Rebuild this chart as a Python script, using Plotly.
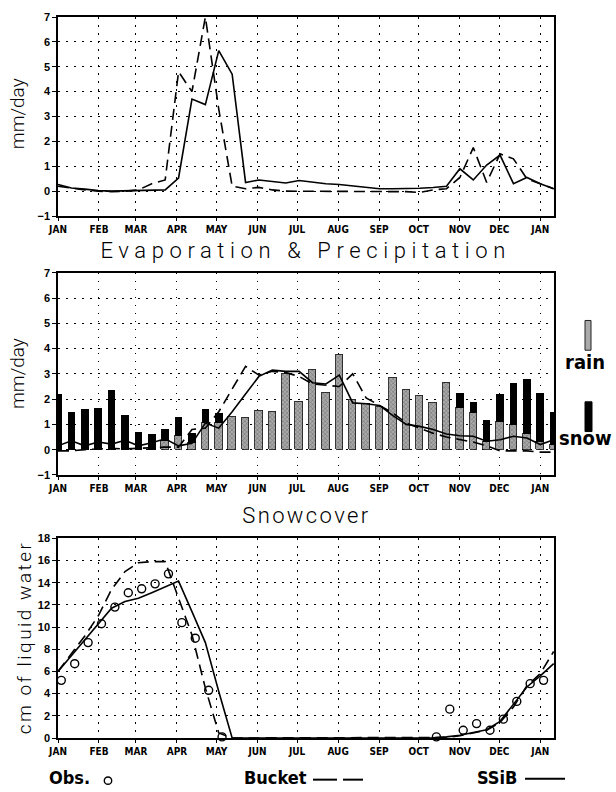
import plotly.graph_objects as go

# ---------------------------------------------------------------- data
MONTHS = ["JAN", "FEB", "MAR", "APR", "MAY", "JUN", "JUL",
          "AUG", "SEP", "OCT", "NOV", "DEC", "JAN"]
MONTH_START_DAY = [0, 31, 59, 90, 120, 151, 181, 212, 243, 273, 304, 334, 365]

N_DEKADS = 38                     # 10-day steps, Jan 1 through early Jan of next year
DEKAD_LEN = 365 / 36
dekad_day = [i * DEKAD_LEN for i in range(N_DEKADS)]
OBS_SHIFT_DAYS = 2.5              # observations are dated a few days into each dekad

# Runoff (mm/day)
ssib_runoff = [0.27, 0.13, 0.08, 0.02, 0.0, 0.02, 0.03, 0.05, 0.05, 0.53,
               3.7, 3.48, 5.65, 4.7, 0.35, 0.45, 0.4, 0.33, 0.43, 0.35,
               0.3, 0.27, 0.22, 0.15, 0.1, 0.1, 0.1, 0.12, 0.15, 0.2,
               0.9, 0.45, 1.05, 1.45, 0.3, 0.55, 0.3, 0.1]
bucket_runoff = [0.2, 0.12, 0.05, 0.0, -0.02, 0.0, 0.05, 0.3, 0.45, 4.8,
                 4.0, 7.0, 3.3, 0.2, 0.1, 0.15, 0.05, 0.0, 0.0, 0.0,
                 0.0, -0.02, -0.02, 0.0, 0.0, 0.0, -0.02, -0.05, 0.05, 0.1,
                 0.55, 1.75, 0.35, 1.5, 1.3, 0.5, 0.3, 0.1]

# Evaporation (mm/day)
ssib_evap = [0.15, 0.35, 0.15, 0.3, 0.22, 0.37, 0.15, 0.27, 0.43, 0.15,
             0.25, 1.05, 0.85, 1.5, 2.2, 2.9, 3.15, 3.1, 3.1, 2.65,
             2.6, 2.95, 1.85, 1.82, 1.75, 1.35, 1.0, 0.92, 0.8, 0.62,
             0.55, 0.53, 0.33, 0.39, 0.53, 0.46, 0.2, 0.39]
bucket_evap = [-0.05, -0.05, 0.0, 0.02, 0.05, 0.03, 0.05, 0.1, 0.1, 0.1,
               0.8, 0.85, 1.5, 2.4, 3.3, 2.95, 3.1, 3.05, 2.9, 2.6,
               2.55, 2.5, 3.0, 2.05, 1.75, 1.45, 1.05, 0.85, 0.65, 0.5,
               0.4, 0.3, 0.15, -0.05, -0.05, -0.05, -0.1, -0.1]

# Precipitation split (mm/day)
rain = [0.0, 0.0, 0.0, 0.0, 0.0, 0.0, 0.0, 0.0, 0.35, 0.53,
        0.27, 1.05, 1.05, 1.31, 1.25, 1.55, 1.51, 3.02, 1.9, 3.15,
        2.23, 3.74, 1.98, 1.8, 1.68, 2.84, 2.38, 2.12, 1.84, 2.63,
        1.65, 1.47, 0.3, 1.1, 1.0, 0.62, 0.3, 0.2]
snow = [2.2, 1.51, 1.6, 1.64, 2.36, 1.38, 0.72, 0.63, 0.49, 0.77,
        0.41, 0.55, 0.42, 0.0, 0.0, 0.0, 0.0, 0.0, 0.0, 0.0,
        0.0, 0.0, 0.0, 0.0, 0.0, 0.0, 0.0, 0.0, 0.0, 0.0,
        0.61, 0.43, 0.87, 1.09, 1.66, 2.17, 1.96, 1.31]

# Snowcover (cm of liquid water)
ssib_swe = [6.0, 7.4, 8.85, 10.3, 11.7, 12.3, 12.6, 13.1, 13.6, 14.15,
            11.4, 8.6, 4.2, 0.0, 0.0, 0.0, 0.0, 0.0, 0.0, 0.0,
            0.0, 0.0, 0.0, 0.0, 0.0, 0.0, 0.0, 0.0, 0.02, 0.1,
            0.25, 0.5, 0.75, 1.5, 3.0, 4.6, 5.6, 6.7]
bucket_swe = [6.0, 7.6, 9.2, 11.0, 13.4, 15.0, 15.8, 15.9, 15.9, 12.6,
              9.3, 4.5, 0.45, 0.0, 0.0, 0.0, 0.0, 0.0, 0.0, 0.0,
              0.0, 0.0, 0.0, 0.0, 0.0, 0.0, 0.0, 0.0, 0.0, 0.05,
              0.2, 0.45, 0.7, 1.4, 2.8, 4.7, 5.8, 7.8]
obs_swe = [5.2, 6.7, 8.6, 10.3, 11.8, 13.1, 13.45, 13.9, 14.8, 10.4,
           9.0, 4.3, 0.1, None, None, None, None, None, None, None,
           None, None, None, None, None, None, None, None, 0.1, 2.6,
           0.7, 1.3, 0.7, 1.7, 3.3, 4.9, 5.2, None]

# ---------------------------------------------------------------- layout helpers
W, H = 616, 792
ML, MR, MT, MB = 58, 62, 11, 54
PW, PH = W - ML - MR, H - MT - MB
X_MAX = 375.4


def pxx(x):
    return (x - ML) / PW


def pxy(y):
    return (H - MB - y) / PH


TICK_FONT = dict(family="Liberation Sans Narrow, DejaVu Sans Condensed, Arial Narrow, sans-serif",
                 size=10, color="black", weight="bold")
NUM_FONT = dict(family="Liberation Sans, Arial, sans-serif", size=11, color="black", weight="bold")
LIGHT_FONT = "Roboto, Liberation Sans, Arial, sans-serif"
NARROW = "Liberation Sans Narrow, DejaVu Sans Condensed, Arial Narrow, sans-serif"
LEGEND_FONT = dict(family=NARROW, size=18, color="black", weight="bold")

GRID_DASH = "1.5px,6.5px"
SOLID = dict(color="black", width=1.6)
DASHED = dict(color="black", width=1.6, dash="11px,6px")

fig = go.Figure()

# top panel: runoff
fig.add_trace(go.Scatter(x=dekad_day, y=ssib_runoff, mode="lines", line=SOLID,
                         xaxis="x", yaxis="y", showlegend=False))
fig.add_trace(go.Scatter(x=dekad_day, y=bucket_runoff, mode="lines", line=DASHED,
                         xaxis="x", yaxis="y", showlegend=False))

# middle panel: precipitation bars + evaporation lines
fig.add_trace(go.Bar(x=dekad_day, y=rain, width=5.7, xaxis="x2", yaxis="y2",
                     marker=dict(color="#a9a9a9",
                                 line=dict(color="#222222", width=0.9),
                                 pattern=dict(shape="x", fgcolor="#3a3a3a", size=3,
                                              solidity=0.35, fillmode="overlay")),
                     showlegend=False))
fig.add_trace(go.Bar(x=dekad_day, y=snow, width=5.7, xaxis="x2", yaxis="y2",
                     marker=dict(color="black", line=dict(width=0)),
                     showlegend=False))
fig.add_trace(go.Scatter(x=dekad_day, y=ssib_evap, mode="lines", line=SOLID,
                         xaxis="x2", yaxis="y2", showlegend=False))
fig.add_trace(go.Scatter(x=dekad_day, y=bucket_evap, mode="lines", line=DASHED,
                         xaxis="x2", yaxis="y2", showlegend=False))

# bottom panel: snowcover
fig.add_trace(go.Scatter(x=dekad_day, y=ssib_swe, mode="lines", line=SOLID,
                         xaxis="x3", yaxis="y3", showlegend=False))
fig.add_trace(go.Scatter(x=dekad_day, y=bucket_swe, mode="lines", line=DASHED,
                         xaxis="x3", yaxis="y3", showlegend=False))
fig.add_trace(go.Scatter(x=[d + OBS_SHIFT_DAYS for d in dekad_day], y=obs_swe, mode="markers",
                         marker=dict(symbol="circle-open", size=8, color="black",
                                     line=dict(width=1.4)),
                         xaxis="x3", yaxis="y3", showlegend=False, cliponaxis=False))


def xaxis_cfg(anchor):
    return dict(anchor=anchor, domain=[0, 1], range=[0, X_MAX],
                tickmode="array", tickvals=MONTH_START_DAY, ticktext=MONTHS,
                tickfont=TICK_FONT, ticks="outside", ticklen=3, tickwidth=1,
                tickcolor="black", showgrid=True, gridcolor="black", gridwidth=1,
                griddash=GRID_DASH, showline=True, linecolor="black", linewidth=1.5,
                mirror=True, zeroline=False, fixedrange=True)


def yaxis_cfg(anchor, domain, rng, vals):
    return dict(anchor=anchor, domain=domain, range=rng, tickmode="array",
                tickvals=vals, tickfont=NUM_FONT, ticks="outside", ticklen=4,
                tickwidth=1, tickcolor="black", showgrid=True, gridcolor="black",
                gridwidth=1, griddash=GRID_DASH, showline=True, linecolor="black",
                linewidth=1.5, mirror=True, zeroline=False, fixedrange=True)


MM_TICKS = list(range(-1, 8))
CM_TICKS = list(range(0, 19, 2))

fig.update_layout(
    width=W, height=H,
    margin=dict(l=ML, r=MR, t=MT, b=MB, pad=0),
    paper_bgcolor="white", plot_bgcolor="white",
    barmode="stack", bargap=0,
    xaxis=xaxis_cfg("y"),
    xaxis2=xaxis_cfg("y2"),
    xaxis3=xaxis_cfg("y3"),
    yaxis=yaxis_cfg("x", [pxy(211.7), 1.0], [-1, 7], MM_TICKS),
    yaxis2=yaxis_cfg("x2", [pxy(472.7), pxy(269)], [-1, 7], MM_TICKS),
    yaxis3=yaxis_cfg("x3", [0.0, pxy(536.7)], [0, 18], CM_TICKS),
)

annotations = [
    dict(text="Evaporation & Precipitation", x=pxx(305), y=pxy(246),
         font=dict(family=LIGHT_FONT, size=22, color="black", weight=300)),
    dict(text="Snowcover", x=pxx(306), y=pxy(514),
         font=dict(family=LIGHT_FONT, size=22, color="black", weight=300)),
    dict(text="mm/day", x=pxx(17), y=pxy(109), textangle=-90,
         font=dict(family=LIGHT_FONT, size=19, color="black", weight=300)),
    dict(text="mm/day", x=pxx(17), y=pxy(371), textangle=-90,
         font=dict(family=LIGHT_FONT, size=19, color="black", weight=300)),
    dict(text="cm of liquid water", x=pxx(25), y=pxy(637), textangle=-90,
         font=dict(family=LIGHT_FONT, size=19, color="black", weight=300)),
    dict(text="rain", x=pxx(585), y=pxy(359),
         font=dict(family=NARROW, size=20, color="black", weight="bold")),
    dict(text="snow", x=pxx(585), y=pxy(436),
         font=dict(family=NARROW, size=20, color="black", weight="bold")),
    dict(text="Obs.", x=pxx(69), y=pxy(778), font=LEGEND_FONT),
    dict(text="Bucket", x=pxx(275), y=pxy(778), font=LEGEND_FONT),
    dict(text="SSiB", x=pxx(497), y=pxy(778), font=LEGEND_FONT),
]
for a in annotations:
    a.update(xref="paper", yref="paper", showarrow=False,
             xanchor="center", yanchor="middle")
fig.update_layout(annotations=annotations)

shapes = [
    # rain / snow keys beside the precipitation panel
    dict(type="rect", x0=pxx(585), x1=pxx(591), y0=pxy(347), y1=pxy(317),
         fillcolor="#a9a9a9", line=dict(color="#222222", width=1)),
    dict(type="rect", x0=pxx(585), x1=pxx(592), y0=pxy(429), y1=pxy(399),
         fillcolor="black", line=dict(color="black", width=1)),
    # bottom key symbols
    dict(type="circle", x0=pxx(104.3), x1=pxx(111.7), y0=pxy(784.7), y1=pxy(777.3),
         line=dict(color="black", width=1.4)),
    dict(type="line", x0=pxx(313), x1=pxx(337), y0=pxy(780), y1=pxy(780),
         line=dict(color="black", width=2)),
    dict(type="line", x0=pxx(343), x1=pxx(363), y0=pxy(780), y1=pxy(780),
         line=dict(color="black", width=2)),
    dict(type="line", x0=pxx(525), x1=pxx(565), y0=pxy(779), y1=pxy(779),
         line=dict(color="black", width=2)),
]
for s in shapes:
    s.update(xref="paper", yref="paper")
fig.update_layout(shapes=shapes)

# widen the letter spacing of the panel titles and the long axis label
SPACING_JS = """
var gd = document.getElementById('{plot_id}');
var spacing = {'Evaporation & Precipitation': '5.6px', 'Snowcover': '2.4px',
               'cm of liquid water': '2.5px'};
gd.querySelectorAll('text').forEach(function (t) {
    var s = spacing[t.textContent];
    if (s) { t.style.letterSpacing = s; }
});
"""

fig.write_html("out.html", post_script=SPACING_JS)
